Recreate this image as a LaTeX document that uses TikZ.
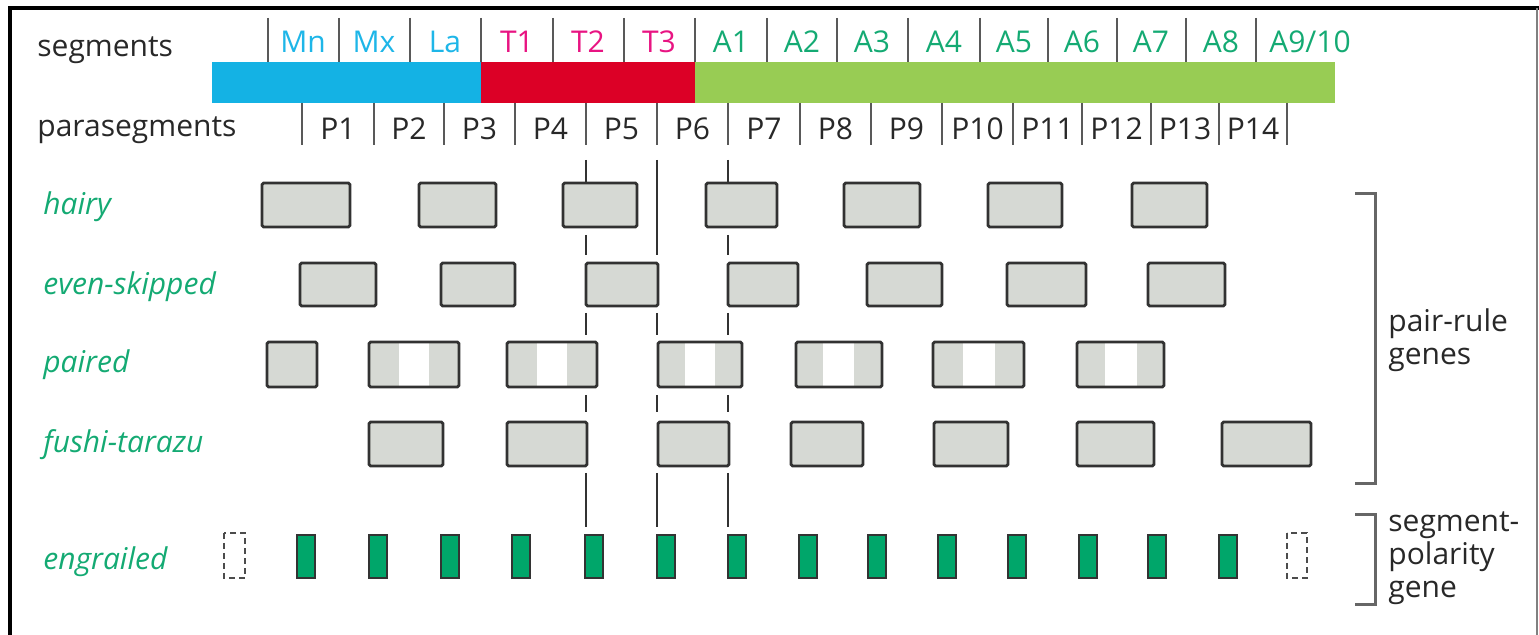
\documentclass[tikz,border=0pt]{standalone}
\usepackage{fontspec}
\setmainfont{Open Sans}
\usepackage{tikz}
\usetikzlibrary{positioning}
\definecolor{segblue}{RGB}{20,178,228}
\definecolor{segred}{RGB}{220,0,38}
\definecolor{seggreen}{RGB}{152,204,84}
\definecolor{lblblue}{RGB}{30,182,232}
\definecolor{lblpink}{RGB}{232,20,130}
\definecolor{lblgreen}{RGB}{20,170,115}
\definecolor{boxgray}{RGB}{214,217,212}
\definecolor{boxline}{RGB}{50,50,50}
\definecolor{engreen}{RGB}{0,166,106}
\definecolor{txtgray}{RGB}{40,40,40}

\begin{document}
\begin{tikzpicture}[x=0.5pt,y=-0.5pt,
  lab/.style={inner sep=0pt,anchor=base,text=txtgray,font=\fontsize{15}{16.5}\selectfont},
  genename/.style={lab,anchor=base west,text=lblgreen,font=\fontsize{15}{16.5}\selectfont\itshape},
  tick/.style={draw=black!65,line width=1pt},
  divider/.style={draw=boxline,line width=1pt},
  gene/.style={draw=boxline,line width=1.4pt,rounded corners=0.8pt},
  engr/.style={draw=black!80,line width=1pt,fill=engreen},
  ghost/.style={draw=black!70,line width=0.9pt,dash pattern=on 3pt off 2pt},
  bracket/.style={draw=black!60,line width=1.5pt}]
  \useasboundingbox (0,0) rectangle (1539,635);
  \draw[line width=2pt] (10,635) -- (10,8) -- (1539,8);
  \draw[black!50,line width=1pt] (1537,8) -- (1537,635);
  \node[lab,anchor=base west] (seglab) at (37,57) {segments};
  \node[lab,anchor=base west] (parlab) at (37,137) {parasegments};
  \fill[segblue] (212,62) rectangle (481,103);
  \fill[segred] (481,62) rectangle (695,103);
  \fill[seggreen] (695,62) rectangle (1335,103);
  \foreach \x in {268,339,410,481,553,624,695,767,837,908,980,1048,1117,1186,1256}
    \draw[tick] (\x,18) -- (\x,62);
  \foreach \t/\x/\c [count=\i] in {Mn/303/lblblue,Mx/374/lblblue,La/445/lblblue,
      T1/517/lblpink,T2/588/lblpink,T3/659/lblpink,A1/731/lblgreen,A2/802/lblgreen,
      A3/872/lblgreen,A4/944/lblgreen,A5/1014/lblgreen,A6/1082/lblgreen,
      A7/1151/lblgreen,A8/1221/lblgreen}
    \node[lab,text=\c] (s\i) at (\x,53) {\t};
  \node[lab,text=lblgreen] (s15) at (1310,53) {A9/10};
  \foreach \x in {302,374,444,515,586,657,728,800,871,942,1013,1082,1151,1219,1287}
    \draw[tick] (\x,103) -- (\x,145);
  \foreach \a/\b [count=\i] in {302/374,374/444,444/515,515/586,586/657,657/728,728/800,
      800/871,871/942,942/1013,1013/1082,1082/1151,1151/1219,1219/1287}
    \node[lab] (p\i) at ({(\a+\b)/2},140) {P\i};
  \foreach \x in {586,657,728}
    \foreach \ya/\yb in {160/182,235/255,313/335,395/412,473/527}
      \draw[divider] (\x,\ya) -- (\x,\yb);
  \draw[divider] (657,182) -- (657,235);
  \node[genename] (hairy) at (43,215) {hairy};
  \node[genename] (eve) at (43,295) {even-skipped};
  \node[genename] (prd) at (43,373) {paired};
  \node[genename] (ftz) at (43,453) {fushi-tarazu};
  \node[genename] (en) at (43,570) {engrailed};
  \foreach \a/\b in {262/350,419/496,563/637,706/777,844/920,988/1062,1132/1207}
    \draw[gene,fill=boxgray] (\a,183) rectangle (\b,227);
  \foreach \a/\b in {300/376,441/515,586/658,728/798,867/942,1007/1086,1148/1225}
    \draw[gene,fill=boxgray] (\a,263) rectangle (\b,306);
  \draw[gene,fill=boxgray] (267,342) rectangle (317,387);
  \foreach \a/\wa/\wb/\b in {369/399/429/459,507/537/567/597,658/685/715/742,
      796/823/854/882,933/963/995/1024,1077/1105/1137/1164}{
    \fill[boxgray] (\a,342) rectangle (\b,387);
    \fill[white] (\wa,342) rectangle (\wb,387);
    \draw[gene] (\a,342) rectangle (\b,387);
  }
  \foreach \a/\b in {369/443,507/587,658/729,791/863,934/1008,1077/1154,1222/1311}
    \draw[gene,fill=boxgray] (\a,422) rectangle (\b,466);
  \foreach \a in {297,369,441,512,585,657,728,799,868,938,1008,1079,1148,1219}
    \draw[engr] (\a,535) rectangle (\a+18,578);
  \draw[ghost] (224,533) rectangle (245,578);
  \draw[ghost] (1287,533) rectangle (1307,578);
  \draw[bracket] (1355,194) -| (1375,484) -- (1355,484);
  \draw[bracket] (1355,515) -| (1375,605) -- (1355,605);
  \node[lab,anchor=base west,align=left] (pairrule) at (1388,365) {pair-rule\\genes};
  \node[lab,anchor=base west,align=left] (segpol) at (1388,598) {segment-\\polarity\\gene};
\end{tikzpicture}
\end{document}
